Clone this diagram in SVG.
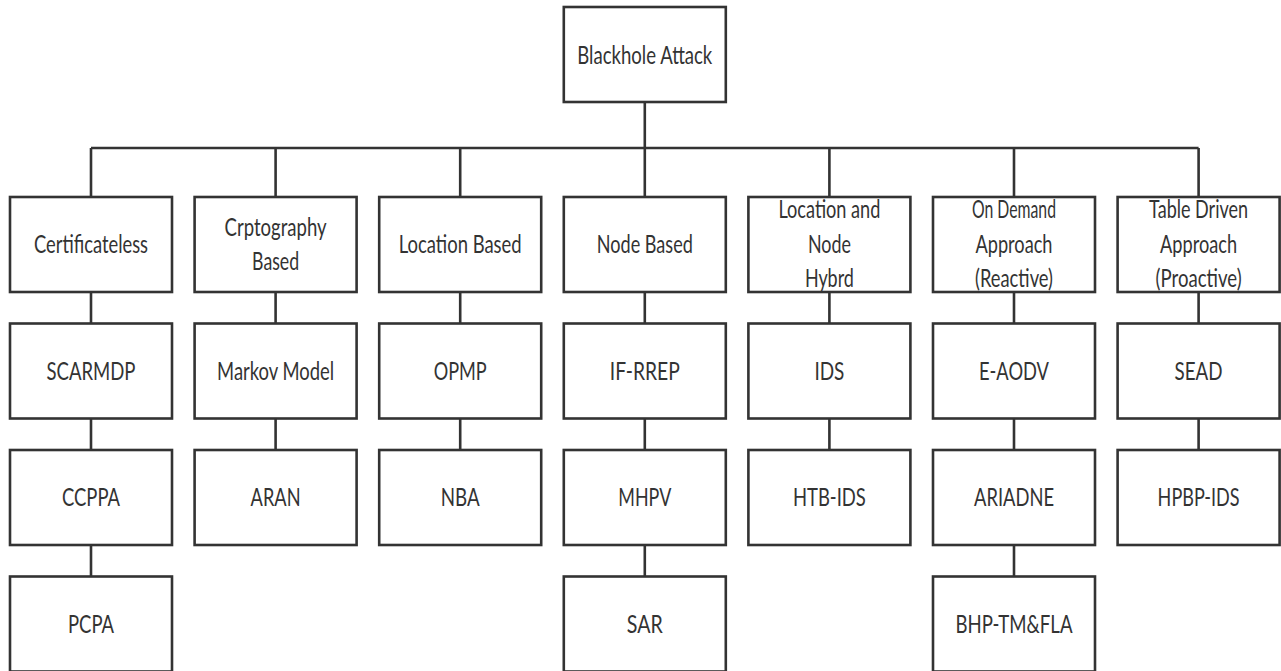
<svg xmlns="http://www.w3.org/2000/svg" width="1281" height="671" viewBox="0 0 1281 671">
<style>
.box{fill:#fff;stroke:#333;stroke-width:2.6}
.ln{fill:none;stroke:#333;stroke-width:2.6}
text{font-family:Lato,"Liberation Sans",sans-serif;font-size:25px;fill:#333;text-anchor:middle}
</style>
<rect width="1281" height="671" fill="#fff"/>
<g id="connectors">
<path class="ln" d="M644.8 102V148M91 148H1198.6M91 148V197M275.6 148V197M460.2 148V197M644.8 148V197M829.4 148V197M1014 148V197M1198.6 148V197"/>
<path class="ln" d="M91 292V323.5M91 418.5V450M91 545V576.5"/>
<path class="ln" d="M275.6 292V323.5M275.6 418.5V450"/>
<path class="ln" d="M460.2 292V323.5M460.2 418.5V450"/>
<path class="ln" d="M644.8 292V323.5M644.8 418.5V450M644.8 545V576.5"/>
<path class="ln" d="M829.4 292V323.5M829.4 418.5V450"/>
<path class="ln" d="M1014 292V323.5M1014 418.5V450M1014 545V576.5"/>
<path class="ln" d="M1198.6 292V323.5M1198.6 418.5V450"/>
</g>
<g id="root"><rect class="box" x="563.8" y="7" width="162" height="95"/><text x="644.8" y="64" textLength="135" lengthAdjust="spacingAndGlyphs">Blackhole Attack</text></g>

<g id="certificateless"><rect class="box" x="10" y="197" width="162" height="95"/><text x="91" y="253" textLength="114" lengthAdjust="spacingAndGlyphs">Certificateless</text></g>
<g id="scarmdp"><rect class="box" x="10" y="323.5" width="162" height="95"/><text x="91" y="379.5" textLength="89" lengthAdjust="spacingAndGlyphs">SCARMDP</text></g>
<g id="ccppa"><rect class="box" x="10" y="450" width="162" height="95"/><text x="91" y="506" textLength="58" lengthAdjust="spacingAndGlyphs">CCPPA</text></g>
<g id="pcpa"><rect class="box" x="10" y="576.5" width="162" height="95"/><text x="91" y="632.5" textLength="46" lengthAdjust="spacingAndGlyphs">PCPA</text></g>

<g id="crypto"><rect class="box" x="194.6" y="197" width="162" height="95"/><text x="275.6" y="236" textLength="102" lengthAdjust="spacingAndGlyphs">Crptography</text><text x="275.6" y="270" textLength="47" lengthAdjust="spacingAndGlyphs">Based</text></g>
<g id="markov"><rect class="box" x="194.6" y="323.5" width="162" height="95"/><text x="275.6" y="379.5" textLength="117" lengthAdjust="spacingAndGlyphs">Markov Model</text></g>
<g id="aran"><rect class="box" x="194.6" y="450" width="162" height="95"/><text x="275.6" y="506" textLength="50" lengthAdjust="spacingAndGlyphs">ARAN</text></g>

<g id="location"><rect class="box" x="379.2" y="197" width="162" height="95"/><text x="460.2" y="253" textLength="123" lengthAdjust="spacingAndGlyphs">Location Based</text></g>
<g id="opmp"><rect class="box" x="379.2" y="323.5" width="162" height="95"/><text x="460.2" y="379.5" textLength="53" lengthAdjust="spacingAndGlyphs">OPMP</text></g>
<g id="nba"><rect class="box" x="379.2" y="450" width="162" height="95"/><text x="460.2" y="506" textLength="39" lengthAdjust="spacingAndGlyphs">NBA</text></g>

<g id="node"><rect class="box" x="563.8" y="197" width="162" height="95"/><text x="644.8" y="253" textLength="96" lengthAdjust="spacingAndGlyphs">Node Based</text></g>
<g id="ifrrep"><rect class="box" x="563.8" y="323.5" width="162" height="95"/><text x="644.8" y="379.5" textLength="70" lengthAdjust="spacingAndGlyphs">IF-RREP</text></g>
<g id="mhpv"><rect class="box" x="563.8" y="450" width="162" height="95"/><text x="644.8" y="506" textLength="53" lengthAdjust="spacingAndGlyphs">MHPV</text></g>
<g id="sar"><rect class="box" x="563.8" y="576.5" width="162" height="95"/><text x="644.8" y="632.5" textLength="36" lengthAdjust="spacingAndGlyphs">SAR</text></g>

<g id="hybrid"><rect class="box" x="748.4" y="197" width="162" height="95"/><text x="829.4" y="218" textLength="102" lengthAdjust="spacingAndGlyphs">Location and</text><text x="829.4" y="253" textLength="43" lengthAdjust="spacingAndGlyphs">Node</text><text x="829.4" y="287" textLength="49" lengthAdjust="spacingAndGlyphs">Hybrd</text></g>
<g id="ids"><rect class="box" x="748.4" y="323.5" width="162" height="95"/><text x="829.4" y="379.5" textLength="30" lengthAdjust="spacingAndGlyphs">IDS</text></g>
<g id="htbids"><rect class="box" x="748.4" y="450" width="162" height="95"/><text x="829.4" y="506" textLength="73" lengthAdjust="spacingAndGlyphs">HTB-IDS</text></g>

<g id="ondemand"><rect class="box" x="933" y="197" width="162" height="95"/><text x="1014" y="218" textLength="84" lengthAdjust="spacingAndGlyphs">On Demand</text><text x="1014" y="253" textLength="77" lengthAdjust="spacingAndGlyphs">Approach</text><text x="1014" y="287" textLength="78" lengthAdjust="spacingAndGlyphs">(Reactive)</text></g>
<g id="eaodv"><rect class="box" x="933" y="323.5" width="162" height="95"/><text x="1014" y="379.5" textLength="70" lengthAdjust="spacingAndGlyphs">E-AODV</text></g>
<g id="ariadne"><rect class="box" x="933" y="450" width="162" height="95"/><text x="1014" y="506" textLength="80" lengthAdjust="spacingAndGlyphs">ARIADNE</text></g>
<g id="bhp"><rect class="box" x="933" y="576.5" width="162" height="95"/><text x="1014" y="632.5" textLength="117" lengthAdjust="spacingAndGlyphs">BHP-TM&amp;FLA</text></g>

<g id="tabledriven"><rect class="box" x="1117.6" y="197" width="162" height="95"/><text x="1198.6" y="218" textLength="99" lengthAdjust="spacingAndGlyphs">Table Driven</text><text x="1198.6" y="253" textLength="77" lengthAdjust="spacingAndGlyphs">Approach</text><text x="1198.6" y="287" textLength="86" lengthAdjust="spacingAndGlyphs">(Proactive)</text></g>
<g id="sead"><rect class="box" x="1117.6" y="323.5" width="162" height="95"/><text x="1198.6" y="379.5" textLength="48" lengthAdjust="spacingAndGlyphs">SEAD</text></g>
<g id="hpbpids"><rect class="box" x="1117.6" y="450" width="162" height="95"/><text x="1198.6" y="506" textLength="82" lengthAdjust="spacingAndGlyphs">HPBP-IDS</text></g>
</svg>
